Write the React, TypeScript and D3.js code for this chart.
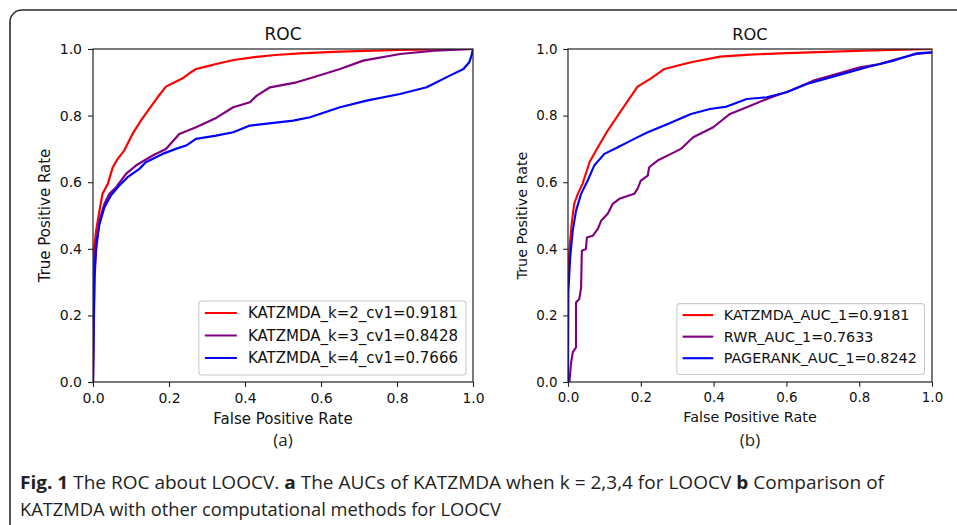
import React, { useEffect, useRef } from "react";
import * as d3 from "d3";

// [false positive rate, true positive rate]
const rocK2: [number, number][] = [
  [0, 0], [0, 0.36], [0.003, 0.4], [0.008, 0.454], [0.017, 0.514], [0.025, 0.565],
  [0.039, 0.595], [0.052, 0.645], [0.065, 0.67], [0.082, 0.695], [0.104, 0.745],
  [0.126, 0.785], [0.148, 0.82], [0.17, 0.855], [0.192, 0.887], [0.215, 0.9],
  [0.236, 0.912], [0.255, 0.928], [0.271, 0.94], [0.3, 0.948], [0.324, 0.955],
  [0.37, 0.967], [0.42, 0.975], [0.48, 0.982], [0.545, 0.987], [0.65, 0.992],
  [0.808, 0.997], [1, 1],
];
const rocK3: [number, number][] = [
  [0, 0], [0.002, 0.15], [0.004, 0.31], [0.008, 0.394], [0.017, 0.484], [0.03, 0.535],
  [0.043, 0.565], [0.061, 0.585], [0.087, 0.625], [0.113, 0.65], [0.157, 0.68],
  [0.192, 0.7], [0.227, 0.745], [0.271, 0.765], [0.324, 0.793], [0.369, 0.825],
  [0.413, 0.84], [0.431, 0.86], [0.466, 0.885], [0.536, 0.9], [0.58, 0.915],
  [0.65, 0.94], [0.711, 0.965], [0.808, 0.985], [0.9, 0.995], [1, 1],
];
const rocK4: [number, number][] = [
  [0, 0], [0.002, 0.2], [0.004, 0.33], [0.008, 0.414], [0.017, 0.474], [0.03, 0.525],
  [0.047, 0.56], [0.065, 0.585], [0.091, 0.615], [0.122, 0.64], [0.139, 0.66],
  [0.183, 0.685], [0.218, 0.7], [0.245, 0.71], [0.271, 0.73], [0.324, 0.74],
  [0.369, 0.75], [0.413, 0.77], [0.527, 0.785], [0.571, 0.795], [0.65, 0.825],
  [0.72, 0.845], [0.808, 0.865], [0.878, 0.885], [0.939, 0.92], [0.975, 0.94],
  [0.99, 0.96], [0.996, 0.98], [1, 1],
];
const rocKatz: [number, number][] = [
  [0, 0], [0, 0.32], [0.004, 0.4], [0.01, 0.474], [0.017, 0.535], [0.027, 0.565],
  [0.04, 0.595], [0.059, 0.66], [0.077, 0.695], [0.109, 0.755], [0.146, 0.815],
  [0.191, 0.887], [0.228, 0.912], [0.265, 0.94], [0.3, 0.95], [0.338, 0.96],
  [0.418, 0.977], [0.5, 0.983], [0.582, 0.987], [0.811, 0.995], [1, 1],
];
const rocRwr: [number, number][] = [
  [0, 0], [0.004, 0], [0.008, 0.054], [0.013, 0.089], [0.022, 0.104], [0.022, 0.239],
  [0.031, 0.249], [0.036, 0.284], [0.038, 0.394], [0.049, 0.399], [0.052, 0.434],
  [0.068, 0.439], [0.082, 0.46], [0.091, 0.484], [0.109, 0.505], [0.123, 0.535],
  [0.141, 0.55], [0.182, 0.565], [0.191, 0.58], [0.2, 0.605], [0.219, 0.62],
  [0.223, 0.645], [0.246, 0.665], [0.283, 0.685], [0.31, 0.7], [0.344, 0.735],
  [0.399, 0.765], [0.445, 0.805], [0.491, 0.825], [0.546, 0.85], [0.61, 0.875],
  [0.674, 0.905], [0.738, 0.925], [0.802, 0.945], [0.857, 0.955], [0.903, 0.97],
  [0.958, 0.985], [1, 0.99],
];
const rocPagerank: [number, number][] = [
  [0, 0], [0.001, 0.27], [0.006, 0.374], [0.013, 0.454], [0.022, 0.514], [0.036, 0.565],
  [0.054, 0.605], [0.072, 0.65], [0.1, 0.685], [0.137, 0.705], [0.182, 0.73],
  [0.219, 0.75], [0.274, 0.775], [0.338, 0.805], [0.39, 0.82], [0.436, 0.827],
  [0.491, 0.85], [0.546, 0.855], [0.601, 0.87], [0.656, 0.895], [0.738, 0.92],
  [0.821, 0.945], [0.894, 0.965], [0.958, 0.987], [1, 0.99],
];

const labelsA = ["KATZMDA_k=2_cv1=0.9181", "KATZMDA_k=3_cv1=0.8428", "KATZMDA_k=4_cv1=0.7666"];
const labelsB = ["KATZMDA_AUC_1=0.9181", "RWR_AUC_1=0.7633", "PAGERANK_AUC_1=0.8242"];
const colors = ["#ff0000", "#800080", "#0000ff"];
const ticks = [0, 0.2, 0.4, 0.6, 0.8, 1.0];

const W = 957;
const H = 525;
const FONT = '"DejaVu Sans", sans-serif';

const panels = [
  { id: "a", left: 93, right: 473, top: 49, bottom: 382, k: 1, legendGap: 7, ylabX: 50, series: [rocK2, rocK3, rocK4], labels: labelsA },
  { id: "b", left: 568, right: 932, top: 49, bottom: 382, k: 0.958, legendGap: 7.5, ylabX: 527, series: [rocKatz, rocRwr, rocPagerank], labels: labelsB },
];

export default function App() {
  const ref = useRef<SVGSVGElement>(null);

  useEffect(() => {
    const svg = d3.select(ref.current);
    svg.selectAll("*").remove();

    // outer frame, rounded in the top left
    svg.append("path")
      .attr("d", `M10,${H + 5} L10,22 A12,12 0 0 1 22,10 L${W + 5},10`)
      .attr("fill", "none")
      .attr("stroke", "#2b2b2b")
      .attr("stroke-width", 1.6);

    panels.forEach(p => {
      const k = p.k;
      const x = d3.scaleLinear().domain([0, 1]).range([p.left, p.right]);
      const y = d3.scaleLinear().domain([0, 1]).range([p.bottom, p.top]);
      const g = svg.append("g").style("font-family", FONT);

      g.append("clipPath").attr("id", "clip" + p.id)
        .append("rect")
        .attr("x", p.left).attr("y", p.top)
        .attr("width", p.right - p.left).attr("height", p.bottom - p.top);

      const line = d3.line<[number, number]>().x(d => x(d[0])).y(d => y(d[1]));
      p.series.forEach((s, i) => {
        g.append("path")
          .attr("d", line(s))
          .attr("clip-path", `url(#clip${p.id})`)
          .attr("fill", "none")
          .attr("stroke", colors[i])
          .attr("stroke-width", 2.2 * k)
          .attr("stroke-linejoin", "round");
      });

      // axes frame
      g.append("rect")
        .attr("x", p.left).attr("y", p.top)
        .attr("width", p.right - p.left).attr("height", p.bottom - p.top)
        .attr("fill", "none").attr("stroke", "#222").attr("stroke-width", 1.2);

      const fmt = d3.format(".1f");
      const xa = g.append("g")
        .attr("transform", `translate(0,${p.bottom})`)
        .call(d3.axisBottom(x).tickValues(ticks).tickFormat(d => fmt(d as number)).tickSize(5 * k).tickPadding(6 * k));
      const ya = g.append("g")
        .attr("transform", `translate(${p.left},0)`)
        .call(d3.axisLeft(y).tickValues(ticks).tickFormat(d => fmt(d as number)).tickSize(5 * k).tickPadding(6 * k));
      [xa, ya].forEach(a => {
        a.attr("font-family", FONT).attr("font-size", 14 * k);
        a.select(".domain").remove();
        a.selectAll("line").attr("stroke", "#222").attr("stroke-width", 1.1);
        a.selectAll("text").attr("fill", "#111");
      });

      const cx = (p.left + p.right) / 2;
      g.append("text")
        .attr("x", cx).attr("y", p.top - 9 * k)
        .attr("text-anchor", "middle")
        .attr("font-size", 17 * k)
        .attr("fill", "#111")
        .text("ROC");
      g.append("text")
        .attr("x", cx).attr("y", p.bottom + 42 * k)
        .attr("text-anchor", "middle")
        .attr("font-size", 15 * k)
        .attr("fill", "#111")
        .text("False Positive Rate");
      g.append("text")
        .attr("transform", `translate(${p.ylabX},${(p.top + p.bottom) / 2}) rotate(-90)`)
        .attr("text-anchor", "middle")
        .attr("font-size", 15 * k)
        .attr("fill", "#111")
        .text("True Positive Rate");

      // legend, anchored to the lower right corner of the axes
      const lg = g.append("g");
      const box = lg.append("rect");
      const rowH = 22.5 * k;
      const texts = p.labels.map((lab, i) => {
        lg.append("line")
          .attr("x1", 6 * k).attr("x2", 38 * k)
          .attr("y1", 12 * k + i * rowH).attr("y2", 12 * k + i * rowH)
          .attr("stroke", colors[i]).attr("stroke-width", 2.2 * k);
        return lg.append("text")
          .attr("x", 49 * k).attr("y", 12 * k + i * rowH + 5.2 * k)
          .attr("font-size", 15 * k)
          .attr("fill", "#111")
          .text(lab);
      });
      const tw = d3.max(texts, t => (t.node() as SVGTextElement).getComputedTextLength()) || 0;
      const bw = 49 * k + tw + 8 * k;
      const bh = 74 * k;
      box.attr("width", bw).attr("height", bh).attr("rx", 3).attr("ry", 3)
        .attr("fill", "#fff").attr("fill-opacity", 0.85)
        .attr("stroke", "#cccccc").attr("stroke-width", 1.1);
      lg.attr("transform", `translate(${p.right - p.legendGap - bw},${p.bottom - p.legendGap - bh})`);

      svg.append("text")
        .attr("x", cx).attr("y", 446)
        .attr("text-anchor", "middle")
        .attr("font-family", '"Open Sans", sans-serif')
        .attr("font-size", 17)
        .attr("fill", "#231f20")
        .text(`(${p.id})`);
    });

    // caption
    const cap = svg.append("g")
      .attr("font-family", '"Open Sans", sans-serif')
      .attr("font-size", 18)
      .attr("fill", "#231f20");
    const l1 = cap.append("text").attr("x", 20).attr("y", 489)
      .attr("textLength", 864).attr("lengthAdjust", "spacingAndGlyphs");
    const parts: [string, boolean][] = [
      ["Fig. 1", true],
      [" The ROC about LOOCV. ", false],
      ["a", true],
      [" The AUCs of KATZMDA when k = 2,3,4 for LOOCV ", false],
      ["b", true],
      [" Comparison of", false],
    ];
    parts.forEach(([t, b]) => {
      l1.append("tspan").attr("font-weight", b ? 700 : 400).text(t);
    });
    cap.append("text").attr("x", 20).attr("y", 516)
      .attr("textLength", 481).attr("lengthAdjust", "spacingAndGlyphs")
      .text("KATZMDA with other computational methods for LOOCV");
  }, []);

  return (
    <svg
      ref={ref}
      width={W}
      height={H}
      style={{ position: "absolute", left: 0, top: 0, background: "#fff" }}
    />
  );
}
